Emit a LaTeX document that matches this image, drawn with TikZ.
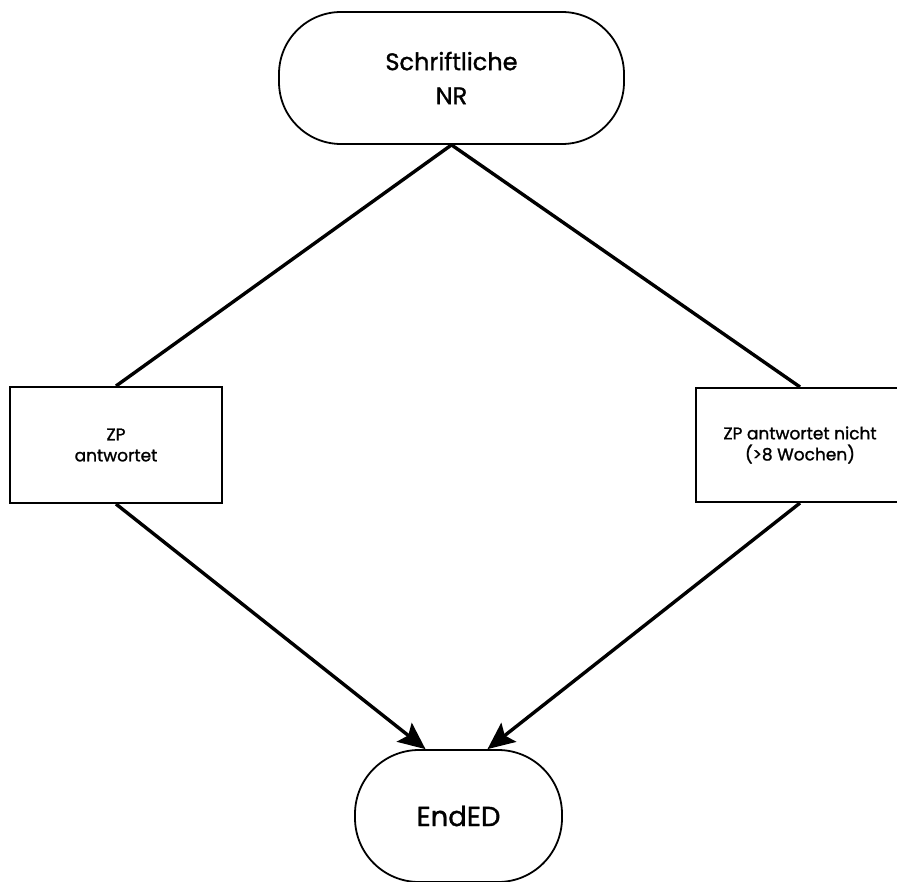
\documentclass[tikz,border=0pt]{standalone}
\usepackage{fontspec}
\setmainfont{Poppins}[BoldFont=Poppins, BoldFeatures={FakeBold=1.3}]
\usetikzlibrary{arrows.meta}

\tikzset{
  terminal/.style={draw, line width=1.8pt, rounded corners=62pt, align=center, inner sep=0pt},
  outcome/.style={draw, line width=2pt, align=center, inner sep=0pt},
  link/.style={line width=3.4pt},
  flow/.style={line width=3.4pt, -{Stealth[length=27pt, width=24pt, inset=5pt]}},
  bigtext/.style={font=\fontsize{24}{34}\selectfont\bfseries},
  smalltext/.style={font=\fontsize{17}{21}\selectfont\bfseries},
  endtext/.style={font=\fontsize{27.5}{34}\selectfont\bfseries}
}

\begin{document}
\begin{tikzpicture}[x=1pt, y=-1pt]
  \useasboundingbox (0,0) rectangle (897,882);
  \clip (0,0) rectangle (897,882);

  % start and end terminals
  \node[terminal, bigtext, minimum width=345pt, minimum height=132pt] (start) at (451.5,78) {Schriftliche\\NR};
  \node[terminal, endtext, rounded corners=64pt, minimum width=207pt, minimum height=132pt] (ende) at (458.5,816) {EndED};

  % the two outcomes
  \node[outcome, smalltext, minimum width=212pt, minimum height=116pt] (ja) at (116,445) {ZP\\antwortet};
  \node[outcome, smalltext, minimum width=208pt, minimum height=114pt] (nein) at (800,445) {ZP antwortet nicht\\(>8 Wochen)};

  % connectors
  \draw[link] (start.south) -- (ja.north);
  \draw[link] (start.south) -- (nein.north);
  \draw[flow] (ja.south) -- ([xshift=-33pt]ende.north);
  \draw[flow] (nein.south) -- ([xshift=29pt]ende.north);
\end{tikzpicture}
\end{document}
